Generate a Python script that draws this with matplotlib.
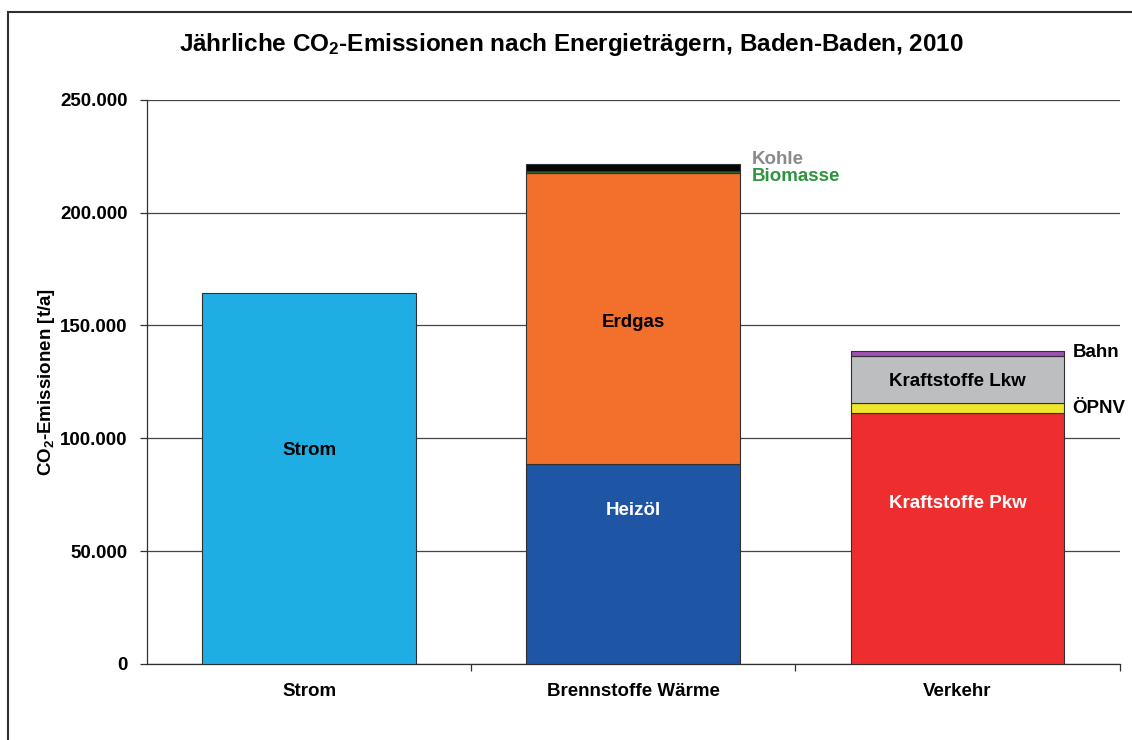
import matplotlib
matplotlib.use("Agg")
import matplotlib.pyplot as plt
from matplotlib.patches import Rectangle
from matplotlib.ticker import FuncFormatter, MultipleLocator

plt.rcParams['font.family'] = ['Liberation Sans', 'DejaVu Sans']
plt.rcParams['font.weight'] = 'bold'
plt.rcParams['mathtext.fontset'] = 'custom'
plt.rcParams['mathtext.rm'] = 'Liberation Sans:bold'
plt.rcParams['mathtext.default'] = 'rm'

# Daten (t CO2 / a)
categories = ['Strom', 'Brennstoffe Wärme', 'Verkehr']

strom_values = [164500]

waerme_labels = ['Heizöl', 'Erdgas', 'Biomasse', 'Kohle']
waerme_values = [88700, 128800, 1000, 3100]
waerme_colors = ['#1F55A5', '#F2702B', '#2C6B2F', '#050505']

verkehr_labels = ['Kraftstoffe Pkw', 'ÖPNV', 'Kraftstoffe Lkw', 'Bahn']
verkehr_values = [111300, 4400, 20800, 2250]
verkehr_colors = ['#EE2E2E', '#EEE72A', '#BDBEBF', '#A04FB5']

strom_color = '#1FAEE3'

fig = plt.figure(figsize=(11.32, 7.40), dpi=100)
ax = fig.add_axes([0.130, 0.103, 0.859, 0.762])

width = 0.66
edge = dict(edgecolor='#303030', linewidth=0.8)

# Strom
ax.bar(0, strom_values[0], width, color=strom_color, **edge, zorder=3)

# Brennstoffe Wärme
bottom = 0
for val, col in zip(waerme_values, waerme_colors):
    ax.bar(1, val, width, bottom=bottom, color=col, **edge, zorder=3)
    bottom += val

# Verkehr
bottom = 0
for val, col in zip(verkehr_values, verkehr_colors):
    ax.bar(2, val, width, bottom=bottom, color=col, **edge, zorder=3)
    bottom += val

# Beschriftungen in den Balken
fs = 13.5
ax.text(0, 94400, 'Strom', ha='center', va='center', fontsize=fs, color='black', zorder=4)
ax.text(1, 67800, waerme_labels[0], ha='center', va='center', fontsize=fs, color='white', zorder=4)
ax.text(1, 151200, waerme_labels[1], ha='center', va='center', fontsize=fs, color='black', zorder=4)
ax.text(2, 70900, verkehr_labels[0], ha='center', va='center', fontsize=fs, color='white', zorder=4)
ax.text(2, 125000, verkehr_labels[2], ha='center', va='center', fontsize=fs, color='black', zorder=4)

# Beschriftungen neben den Balken
ax.text(1 + width / 2 + 0.035, 223400, waerme_labels[3], ha='left', va='center', fontsize=fs, color='#8A8A8A')
ax.text(1 + width / 2 + 0.035, 215900, waerme_labels[2], ha='left', va='center', fontsize=fs, color='#2E9440')
ax.text(2 + width / 2 + 0.025, 137900, verkehr_labels[3], ha='left', va='center', fontsize=fs, color='black')
ax.text(2 + width / 2 + 0.025, 113000, verkehr_labels[1], ha='left', va='center', fontsize=fs, color='black')

# Achsen
ax.set_xlim(-0.5, 2.5)
ax.set_ylim(0, 250000)
ax.yaxis.set_major_locator(MultipleLocator(50000))
ax.yaxis.set_major_formatter(FuncFormatter(lambda v, p: f"{v:,.0f}".replace(',', '.')))
ax.grid(axis='y', color='#444444', linewidth=0.9, zorder=0)
ax.set_axisbelow(True)

ax.set_xticks([0, 1, 2])
ax.set_xticklabels(categories, fontsize=fs)
ax.set_xticks([0.5, 1.5, 2.5], minor=True)
ax.tick_params(axis='x', which='major', length=0, pad=14)
ax.tick_params(axis='x', which='minor', length=5, width=0.9, color='#303030')
ax.tick_params(axis='y', length=5, width=0.9, labelsize=fs, pad=9, color='#303030')

for side in ['top', 'right']:
    ax.spines[side].set_visible(False)
for side in ['left', 'bottom']:
    ax.spines[side].set_color('#303030')
    ax.spines[side].set_linewidth(0.9)

ax.set_ylabel('CO$_2$-Emissionen [t/a]', fontsize=fs, fontweight='bold', labelpad=2)
fig.suptitle('Jährliche CO$_2$-Emissionen nach Energieträgern, Baden-Baden, 2010',
             fontsize=17.5, fontweight='bold', x=0.505, y=0.958)

# Rahmen um das Diagramm
fig.patches.append(Rectangle((0.007, -0.05), 1.1, 1.034, transform=fig.transFigure,
                             fill=False, edgecolor='#303030', linewidth=1.5))

fig.savefig('out.png', dpi=100)
